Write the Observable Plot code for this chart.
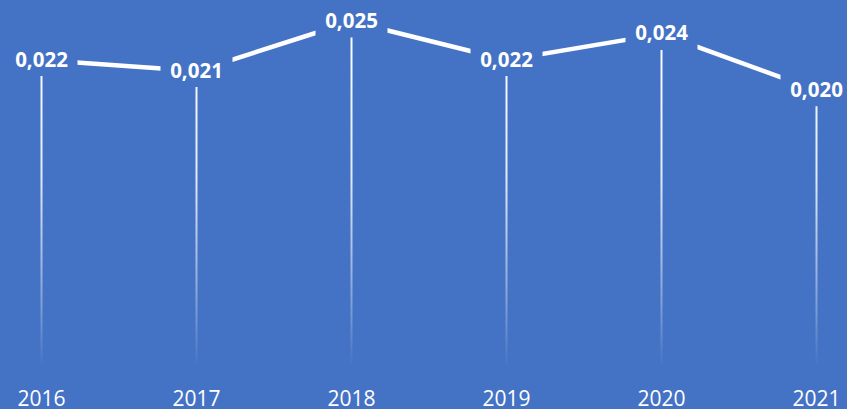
<!DOCTYPE html>
<html>
<head>
<meta charset="utf-8">
<script src="https://cdn.jsdelivr.net/npm/d3@7"></script>
<script src="https://cdn.jsdelivr.net/npm/@observablehq/plot@0.6"></script>
<style>
  html, body { margin: 0; padding: 0; background: #4472C4; }
  #chart { width: 847px; height: 409px; overflow: hidden; }
  svg { overflow: visible; }
</style>
</head>
<body>
<div id="chart"></div>
<script>
const years = ["2016", "2017", "2018", "2019", "2020", "2021"];
const values = [0.0222, 0.0214, 0.0250, 0.0222, 0.0241, 0.0200];

const bg = "#4472C4";
const fmt = v => d3.format(".3f")(v).replace(".", ",");
const data = years.map((year, i) => ({ year, value: values[i], label: fmt(values[i]) }));

const boxSymbol = {
  draw(ctx) { ctx.rect(-36, -16, 72, 32); }
};

const plot = Plot.plot({
  width: 847,
  height: 409,
  marginLeft: 40,
  marginRight: 31,
  marginTop: 21,
  marginBottom: 44,
  style: { background: bg, fontFamily: "'Open Sans', sans-serif", overflow: "visible" },
  x: { type: "point", domain: years, padding: 0 },
  y: { domain: [0, 0.025], axis: null },
  marks: [
    Plot.ruleX(data, { x: "year", y1: 0, y2: "value", stroke: "url(#dropgrad)", strokeWidth: 2 }),
    Plot.line(data, { x: "year", y: "value", stroke: "white", strokeWidth: 4.5, strokeLinejoin: "round" }),
    Plot.dot(data, { x: "year", y: "value", symbol: boxSymbol, fill: bg, stroke: "none", r: 1 }),
    Plot.text(data, { x: "year", y: "value", text: "label", fill: "white", fontSize: 20.5, fontWeight: "bold", lineAnchor: "middle" }),
    Plot.axisX({ tickSize: 0, tickPadding: 26, fontSize: 21, color: "white", label: null })
  ]
});

// gradient for the drop lines, positioned with the plot's own y scale
const y = plot.scale("y");
const yTop = y.apply(0.025), yBot = y.apply(0) + 3;
const defs = d3.create("svg:defs");
const g = defs.append("linearGradient")
  .attr("id", "dropgrad")
  .attr("gradientUnits", "userSpaceOnUse")
  .attr("x1", 0).attr("x2", 0)
  .attr("y1", yTop).attr("y2", yBot);
g.append("stop").attr("offset", 0).attr("stop-color", "white").attr("stop-opacity", 1);
g.append("stop").attr("offset", 0.45).attr("stop-color", "white").attr("stop-opacity", 0.85);
g.append("stop").attr("offset", 0.8).attr("stop-color", "white").attr("stop-opacity", 0.35);
g.append("stop").attr("offset", 1).attr("stop-color", "white").attr("stop-opacity", 0);
plot.insertBefore(defs.node(), plot.firstChild);

document.getElementById("chart").appendChild(plot);
</script>
</body>
</html>
